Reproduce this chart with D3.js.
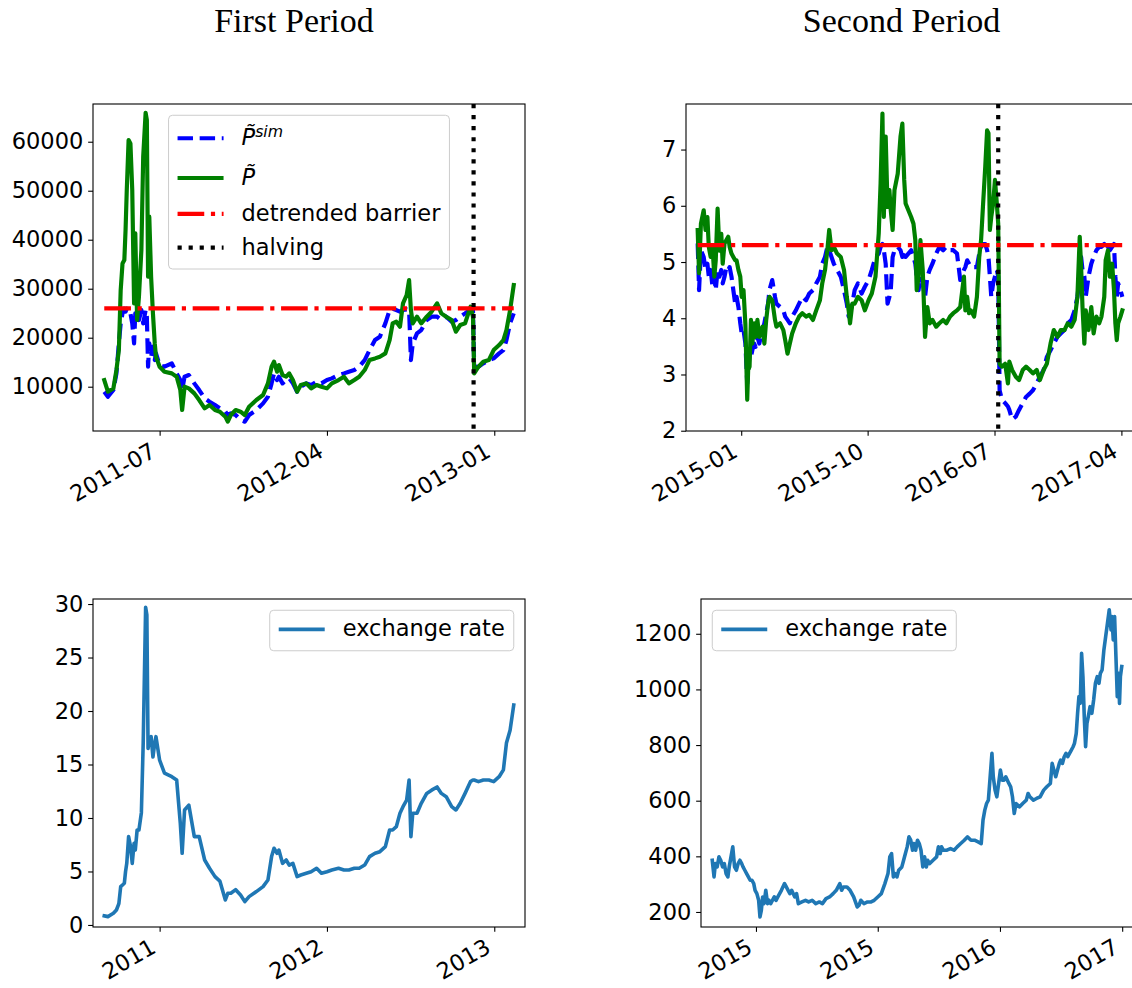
<!DOCTYPE html>
<html>
<head>
<meta charset="utf-8">
<script src="https://cdn.jsdelivr.net/npm/d3@7"></script>
<style>
  body { margin: 0; background: #fff; }
  svg { display: block; }
</style>
</head>
<body>
<svg id="fig" width="1132" height="988"></svg>
<script>
// ---- first period: detrended price, simulated price, exchange rate ----
const p1Dates = ["2011-04-01","2011-04-07","2011-04-16","2011-04-21","2011-04-25","2011-04-28","2011-05-01","2011-05-04","2011-05-06","2011-05-08",
  "2011-05-11","2011-05-14","2011-05-17","2011-05-20","2011-05-22","2011-05-25","2011-05-28","2011-06-01","2011-06-04","2011-06-08",
  "2011-06-10","2011-06-12","2011-06-14","2011-06-17","2011-06-20","2011-06-23","2011-06-25","2011-07-01","2011-07-09","2011-07-21",
  "2011-07-29","2011-08-04","2011-08-07","2011-08-11","2011-08-18","2011-08-27","2011-09-04","2011-09-13","2011-09-21","2011-09-30",
  "2011-10-08","2011-10-17","2011-10-21","2011-10-26","2011-11-03","2011-11-11","2011-11-18","2011-11-25","2011-12-07","2011-12-18",
  "2011-12-26","2012-01-01","2012-01-05","2012-01-10","2012-01-13","2012-01-19","2012-01-25","2012-01-30","2012-02-05","2012-02-12",
  "2012-02-18","2012-02-27","2012-03-06","2012-03-15","2012-03-23","2012-04-01","2012-04-09","2012-04-20","2012-04-29","2012-05-07",
  "2012-05-16","2012-05-24","2012-06-02","2012-06-10","2012-06-19","2012-06-27","2012-07-06","2012-07-13","2012-07-18","2012-07-24",
  "2012-07-30","2012-08-04","2012-08-10","2012-08-14","2012-08-17","2012-08-20","2012-08-27","2012-09-03","2012-09-12","2012-09-20",
  "2012-09-29","2012-10-06","2012-10-14","2012-10-23","2012-10-30","2012-11-06","2012-11-14","2012-11-23","2012-11-27","2012-11-29",
  "2012-12-06","2012-12-14","2012-12-23","2012-12-31","2013-01-09","2013-01-16","2013-01-21","2013-01-27","2013-02-02"];

const p1Obs = [11360,8980,9660,13400,17480,29730,35170,35850,41970,50140,
  60340,59660,50140,27010,41290,23610,28370,37890,56940,65920,
  64420,32450,44700,32450,24970,18840,16120,14080,13060,12720,
  12040,9320,5240,10000,9660,8640,7280,5580,6260,5240,
  4900,3880,2860,4220,5240,4900,4220,5920,7280,8300,
  10680,14080,15100,13060,14420,12380,12040,12720,11360,8980,
  10340,10680,9660,10340,10000,9660,10680,11360,12040,10680,
  11360,12040,13400,15440,15780,16120,16800,19520,22930,23270,
  22250,27010,28710,31770,25650,22930,24290,22930,24290,25310,
  27010,24970,24290,23610,21230,22590,22930,26330,24290,12720,
  14080,15100,15440,17480,18500,19520,21560,25650,30750];

const p1Sim = [8980,7960,9320,12720,18840,22930,24970,25920,25310,25920,
  25650,24970,22930,18840,24970,24290,23610,25650,22930,25650,
  24290,14080,18840,16120,18160,15440,16800,14420,14080,14760,
  12720,11360,9320,12040,12380,10680,9320,7620,6940,6260,
  5580,4900,4220,4560,4220,3200,2860,4220,5240,6600,
  7960,10680,12720,11360,12040,10680,11360,11700,10680,8980,
  10000,10680,10340,11020,10680,11360,11700,12380,12720,13060,
  13400,14080,15440,17480,19520,20200,22930,25650,25920,25650,
  25310,25650,25780,25650,15440,18840,20880,21560,23610,24290,
  24290,23610,24290,23270,23610,24290,24970,25780,25650,14080,
  14080,14760,15440,15780,16800,17480,19520,22930,24970];

const p1Rate = [0.85,0.78,1.09,1.4,2.0,3.58,3.74,3.9,5.0,5.76,
  8.26,7.4,5.76,7.63,7.0,8.88,8.88,10.5,17.0,29.7,
  29.0,16.5,17.3,17.6,15.7,17.0,17.6,15.4,14.2,13.86,
  13.55,9.5,6.7,10.75,11.2,8.26,8.26,6.07,5.3,4.52,
  4.1,2.34,2.96,2.96,3.3,2.8,2.18,2.65,3.12,3.58,
  4.2,6.39,7.17,6.7,7.0,5.76,6.07,5.6,5.76,4.52,
  4.67,4.83,4.98,5.3,4.83,4.98,5.14,5.3,5.14,5.14,
  5.3,5.3,5.6,6.39,6.7,6.85,7.32,8.88,8.88,9.19,
  10.44,11.06,11.68,13.55,8.26,10.44,10.44,11.37,12.3,12.6,
  12.9,12.3,11.99,11.06,10.75,11.37,12.3,13.4,13.55,13.55,
  13.4,13.55,13.55,13.4,13.86,14.5,17.0,18.2,20.56];

// ---- second period ----
const p2Dates = ["2014-09-29","2014-10-02","2014-10-06","2014-10-12","2014-10-16","2014-10-20","2014-10-23","2014-10-27","2014-10-31","2014-11-04",
  "2014-11-07","2014-11-11","2014-11-15","2014-11-19","2014-11-22","2014-11-26","2014-11-30","2014-12-04","2014-12-07","2014-12-11",
  "2014-12-15","2014-12-19","2014-12-22","2014-12-26","2014-12-30","2015-01-02","2015-01-06","2015-01-10","2015-01-14","2015-01-16",
  "2015-01-19","2015-01-22","2015-01-25","2015-01-29","2015-02-01","2015-02-05","2015-02-09","2015-02-16","2015-02-20","2015-02-24",
  "2015-02-28","2015-03-03","2015-03-09","2015-03-15","2015-03-18","2015-03-26","2015-04-02","2015-04-06","2015-04-11","2015-04-16",
  "2015-04-21","2015-04-29","2015-05-06","2015-05-13","2015-05-21","2015-05-28","2015-06-05","2015-06-12","2015-06-20","2015-06-25",
  "2015-07-01","2015-07-06","2015-07-10","2015-07-15","2015-07-20","2015-07-27","2015-08-04","2015-08-11","2015-08-17","2015-08-21",
  "2015-08-24","2015-08-29","2015-09-03","2015-09-10","2015-09-18","2015-09-25","2015-10-03","2015-10-10","2015-10-18","2015-10-25",
  "2015-10-29","2015-11-02","2015-11-05","2015-11-09","2015-11-13","2015-11-17","2015-11-20","2015-11-24","2015-11-28","2015-12-05",
  "2015-12-11","2015-12-15","2015-12-19","2015-12-22","2015-12-28","2016-01-03","2016-01-08","2016-01-12","2016-01-15","2016-01-19",
  "2016-01-23","2016-01-28","2016-02-02","2016-02-07","2016-02-12","2016-02-18","2016-02-26","2016-03-04","2016-03-12","2016-03-19",
  "2016-03-27","2016-04-03","2016-04-11","2016-04-18","2016-04-26","2016-04-29","2016-05-03","2016-05-07","2016-05-11","2016-05-18",
  "2016-05-24","2016-05-29","2016-06-02","2016-06-06","2016-06-11","2016-06-15","2016-06-18","2016-06-21","2016-06-24","2016-06-28",
  "2016-07-02","2016-07-06","2016-07-09","2016-07-12","2016-07-17","2016-07-24","2016-07-30","2016-08-02","2016-08-08","2016-08-16",
  "2016-08-23","2016-08-31","2016-09-07","2016-09-15","2016-09-22","2016-09-30","2016-10-07","2016-10-15","2016-10-22","2016-10-30",
  "2016-11-06","2016-11-14","2016-11-21","2016-11-29","2016-12-06","2016-12-14","2016-12-21","2016-12-27","2017-01-01","2017-01-04",
  "2017-01-07","2017-01-11","2017-01-14","2017-01-20","2017-01-26","2017-01-31","2017-02-06","2017-02-12","2017-02-17","2017-02-23",
  "2017-02-26","2017-03-03","2017-03-07","2017-03-12","2017-03-16","2017-03-19","2017-03-22","2017-03-25","2017-03-30","2017-04-03"];

const p2Obs = [5.57,4.8,5.68,5.92,5.57,5.8,5.27,5.09,5.27,4.74,
  5.03,5.95,5.2,5.5,4.97,5.33,5.39,5.45,5.27,5.15,
  5.09,5.03,5.03,4.86,4.74,4.38,4.5,3.9,2.55,3.08,
  3.14,3.97,3.55,3.91,3.67,3.97,3.67,3.85,3.55,3.97,
  4.26,4.38,4.32,3.97,3.85,3.91,3.79,3.61,3.37,3.55,
  3.73,3.91,4.03,4.09,4.03,4.06,3.97,4.14,4.32,4.62,
  4.86,5.21,5.57,5.21,5.27,5.15,5.09,4.86,4.38,4.14,
  3.91,4.26,4.26,4.38,4.32,4.14,4.32,4.44,4.74,5.51,
  6.4,7.64,5.8,7.23,5.98,6.28,5.92,5.57,6.28,6.57,
  7.23,7.46,6.46,6.04,5.92,5.8,5.68,5.39,4.5,4.74,
  5.39,4.86,3.67,4.2,3.91,3.97,3.85,3.91,3.97,3.91,
  4.03,4.09,4.14,4.2,4.74,4.14,4.38,4.09,4.14,4.03,
  4.38,5.09,5.39,5.98,6.69,7.34,7.29,5.57,5.8,6.04,
  6.46,6.04,5.68,3.19,3.14,3.19,2.84,3.23,3.08,2.96,
  2.9,3.08,3.14,3.08,3.02,3.08,2.9,3.08,3.19,3.55,
  3.79,3.67,3.79,3.79,3.91,3.85,3.97,4.38,5.45,4.92,
  4.2,3.55,4.14,3.79,4.2,3.73,4.03,3.91,4.03,4.38,
  5.03,5.21,4.74,4.97,4.5,3.91,3.61,3.91,4.03,4.14];

const p2Sim = [5.33,4.5,5.21,5.09,4.86,4.97,4.74,4.86,4.56,4.74,
  4.5,4.86,4.74,4.86,4.62,4.74,4.91,4.86,4.91,4.74,
  4.5,4.26,4.38,4.2,3.91,3.73,3.79,3.55,2.84,3.02,
  3.37,3.31,3.43,3.55,3.49,3.67,3.55,3.79,3.91,4.09,
  4.26,4.5,4.68,4.38,4.26,4.2,4.14,4.03,3.97,3.91,
  4.03,4.14,4.26,4.38,4.32,4.44,4.5,4.62,4.74,4.97,
  5.09,5.27,5.21,5.09,4.97,4.86,4.74,4.5,4.26,4.03,
  4.09,4.26,4.5,4.62,4.44,4.56,4.68,4.86,5.09,5.15,
  5.27,5.32,5.21,4.97,4.26,4.38,4.5,5.09,5.21,5.27,
  5.21,5.09,5.21,5.09,5.15,5.21,5.09,4.97,4.74,4.5,
  4.74,4.62,4.38,4.74,4.86,4.97,5.15,5.27,5.21,5.27,
  5.21,5.21,5.15,4.68,4.86,4.91,5.03,4.97,4.91,4.91,
  4.91,5.15,5.27,5.32,5.32,5.21,5.09,4.74,4.38,4.62,
  4.74,4.86,4.74,2.72,2.55,2.49,2.43,2.37,2.2,2.25,
  2.37,2.49,2.6,2.66,2.72,2.84,2.96,3.08,3.31,3.43,
  3.55,3.67,3.73,3.79,3.91,3.97,4.14,4.38,4.74,5.09,
  4.86,4.74,4.38,4.74,4.97,5.09,5.21,5.27,5.27,5.32,
  5.21,5.27,5.21,5.27,5.32,4.74,4.38,4.62,4.5,4.38];

const p2RateDates = ["2014-09-25","2014-09-29","2014-10-02","2014-10-06","2014-10-10","2014-10-14","2014-10-18","2014-10-22","2014-10-26","2014-10-30",
  "2014-11-02","2014-11-06","2014-11-10","2014-11-14","2014-11-18","2014-11-22","2014-11-26","2014-11-30","2014-12-03","2014-12-07",
  "2014-12-11","2014-12-15","2014-12-19","2014-12-23","2014-12-27","2014-12-30","2015-01-03","2015-01-07","2015-01-10","2015-01-13",
  "2015-01-16","2015-01-19","2015-01-23","2015-01-27","2015-01-30","2015-02-03","2015-02-11","2015-02-15","2015-02-19","2015-02-27",
  "2015-03-06","2015-03-10","2015-03-14","2015-03-18","2015-03-22","2015-03-29","2015-04-02","2015-04-06","2015-04-14","2015-04-22",
  "2015-04-29","2015-05-07","2015-05-15","2015-05-23","2015-05-30","2015-06-07","2015-06-15","2015-06-23","2015-06-30","2015-07-08",
  "2015-07-12","2015-07-16","2015-07-24","2015-07-31","2015-08-08","2015-08-16","2015-08-20","2015-08-24","2015-08-31","2015-09-08",
  "2015-09-16","2015-09-23","2015-10-01","2015-10-09","2015-10-17","2015-10-24","2015-10-28","2015-11-01","2015-11-05","2015-11-09",
  "2015-11-13","2015-11-17","2015-11-24","2015-11-28","2015-12-02","2015-12-06","2015-12-10","2015-12-14","2015-12-18","2015-12-21",
  "2015-12-25","2015-12-29","2016-01-02","2016-01-06","2016-01-10","2016-01-14","2016-01-18","2016-01-21","2016-01-25","2016-02-02",
  "2016-02-10","2016-02-14","2016-02-18","2016-02-21","2016-02-25","2016-03-04","2016-03-12","2016-03-20","2016-03-27","2016-04-04",
  "2016-04-12","2016-04-19","2016-04-27","2016-05-05","2016-05-13","2016-05-20","2016-05-24","2016-05-28","2016-06-01","2016-06-05",
  "2016-06-09","2016-06-13","2016-06-16","2016-06-20","2016-06-24","2016-06-28","2016-07-02","2016-07-06","2016-07-10","2016-07-14",
  "2016-07-21","2016-07-25","2016-07-29","2016-08-02","2016-08-06","2016-08-14","2016-08-21","2016-08-29","2016-09-02","2016-09-06",
  "2016-09-14","2016-09-21","2016-09-29","2016-10-07","2016-10-14","2016-10-22","2016-10-26","2016-10-30","2016-11-03","2016-11-07",
  "2016-11-11","2016-11-14","2016-11-18","2016-11-22","2016-11-26","2016-11-30","2016-12-04","2016-12-08","2016-12-12","2016-12-15",
  "2016-12-19","2016-12-22","2016-12-25","2016-12-28","2016-12-31","2017-01-03","2017-01-06","2017-01-09","2017-01-12","2017-01-15",
  "2017-01-19","2017-01-23","2017-01-27","2017-01-31","2017-02-04","2017-02-08","2017-02-11","2017-02-15","2017-02-19","2017-02-23",
  "2017-02-27","2017-03-03","2017-03-07","2017-03-09","2017-03-12","2017-03-15","2017-03-18","2017-03-21","2017-03-24","2017-03-26",
  "2017-03-28","2017-03-31"];

const p2Rate = [386,326,374,362,398,386,362,374,338,326,
  362,398,434,362,350,374,386,374,362,350,
  338,326,314,314,302,278,266,242,182,206,
  254,230,278,230,242,230,254,242,254,278,
  302,290,278,266,278,254,266,230,236,242,
  236,242,230,236,230,248,254,266,278,302,
  278,290,290,278,254,218,224,242,230,236,
  236,242,254,266,302,338,398,410,326,338,
  326,350,362,386,410,434,470,458,422,446,
  422,458,446,422,362,398,362,386,374,386,
  398,434,410,434,422,422,428,422,434,446,
  458,470,458,458,452,446,530,566,590,602,
  686,770,686,638,614,662,710,674,674,686,
  662,650,614,554,590,578,590,602,626,614,
  602,608,614,638,650,662,734,710,686,710,
  734,746,734,758,770,758,770,782,794,806,
  842,914,974,950,1130,1046,902,794,878,902,
  938,914,962,1022,1046,1022,1058,1070,1142,1190,
  1238,1286,1214,1262,1178,1262,1118,974,1058,950,
  1046,1082];

const barrierLevels = [26000, 5.3];
const halvingDates = ["2012-11-28", "2016-07-09"];
const periodTitles = ["First Period", "Second Period"];
const xTicks1 = ["2011-07-01", "2012-04-01", "2013-01-01"];
const xTicks2 = ["2015-01-01", "2015-10-01", "2016-07-01", "2017-04-01"];
const yTicksTL = [10000, 20000, 30000, 40000, 50000, 60000];
const yTicksTR = [2, 3, 4, 5, 6, 7];
const yTicksBL = [0, 5, 10, 15, 20, 25, 30];
const yTicksBR = [200, 400, 600, 800, 1000, 1200];

// ---- drawing ----
const svg = d3.select("#fig");
const parse = d3.timeParse("%Y-%m-%d");
const FS = 22.5, TICK = 4.86, LW = 4.17;
const DASHED = `${3.7 * LW},${1.6 * LW}`;
const DASHDOT = `${6.4 * LW},${1.6 * LW},${1 * LW},${1.6 * LW}`;
const DOTTED = `${1 * LW},${1.65 * LW}`;
const xMargin = 0.0275;

function paddedExtent(dates) {
  const [a, b] = d3.extent(dates, parse);
  const pad = (b - a) * xMargin;
  return [new Date(+a - pad), new Date(+b + pad)];
}

function simLabel(t) {
  t.append("tspan").attr("font-style", "italic").text("P\u0303");
  t.append("tspan").attr("font-style", "italic").attr("font-size", FS * 0.7).attr("dy", -8).text("sim");
}
function obsLabel(t) {
  t.append("tspan").attr("font-style", "italic").text("P\u0303");
}

function drawLegend(g, P, items) {
  const pad = 9, handle = 46, gap = 18, spacing = 11.25, axPad = 11.25;
  const lg = g.append("g");
  const box = lg.append("rect");
  let y = pad, maxW = 0;
  items.forEach(it => {
    const asc = it.math ? 21 : 17.1, desc = it.math ? 7.5 : 5.4;
    const base = y + asc;
    const t = lg.append("text")
      .attr("x", pad + handle + gap).attr("y", base)
      .attr("font-size", FS).attr("font-family", "DejaVu Sans").attr("fill", "#000");
    if (it.render) it.render(t); else t.text(it.label);
    maxW = Math.max(maxW, t.node().getComputedTextLength());
    lg.append("line")
      .attr("x1", pad).attr("x2", pad + handle)
      .attr("y1", base - 7).attr("y2", base - 7)
      .attr("stroke", it.color).attr("stroke-width", it.width)
      .attr("stroke-dasharray", it.dash || null);
    y = base + desc + spacing;
  });
  const h = y - spacing + pad, w = 2 * pad + handle + gap + maxW;
  box.attr("width", w).attr("height", h).attr("rx", 4)
    .attr("fill", "#fff").attr("fill-opacity", 0.8)
    .attr("stroke", "#cccccc").attr("stroke-width", 1);
  let lx;
  if (P.legendLoc === "upper center") lx = (P.x0 + P.x1) / 2 - w / 2;
  else if (P.legendLoc === "upper right") lx = P.x1 - axPad - w;
  else lx = P.x0 + axPad;
  lg.attr("transform", `translate(${lx},${P.y0 + axPad})`);
}

function drawPanel(P, idx) {
  const g = svg.append("g");
  const x = d3.scaleTime().domain(paddedExtent(P.extentDates)).range([P.x0, P.x1]);
  const y = d3.scaleLinear().domain(P.yLim).range([P.y1, P.y0]);

  const clipId = "clip" + idx;
  svg.append("clipPath").attr("id", clipId).append("rect")
    .attr("x", P.x0).attr("y", P.y0).attr("width", P.x1 - P.x0).attr("height", P.y1 - P.y0);
  const plot = g.append("g").attr("clip-path", `url(#${clipId})`);

  const line = d3.line().x(d => x(d[0])).y(d => y(d[1]));
  P.series.forEach(s => {
    const pts = s.dates.map((d, i) => [parse(d), s.values[i]]);
    plot.append("path").datum(pts)
      .attr("d", line)
      .attr("fill", "none")
      .attr("stroke", s.color)
      .attr("stroke-width", s.width)
      .attr("stroke-linejoin", "round")
      .attr("stroke-linecap", s.dash ? "butt" : "square")
      .attr("stroke-dasharray", s.dash || null);
  });
  if (P.halving) {
    const hx = x(parse(P.halving));
    plot.append("line")
      .attr("x1", hx).attr("x2", hx).attr("y1", P.y0).attr("y2", P.y1)
      .attr("stroke", "#000").attr("stroke-width", LW)
      .attr("stroke-dasharray", DOTTED);
  }

  // frame
  g.append("rect")
    .attr("x", P.x0).attr("y", P.y0).attr("width", P.x1 - P.x0).attr("height", P.y1 - P.y0)
    .attr("fill", "none").attr("stroke", "#000").attr("stroke-width", 1.1);

  // y axis
  const gy = g.append("g").attr("transform", `translate(${P.x0},0)`)
    .call(d3.axisLeft(y).tickValues(P.yTicks).tickFormat(d3.format("d"))
      .tickSize(TICK).tickPadding(TICK).tickSizeOuter(0));
  gy.select(".domain").remove();
  gy.attr("font-size", FS).attr("font-family", "DejaVu Sans");
  gy.selectAll(".tick line").attr("stroke-width", 1.1);

  // x axis, labels rotated 30 degrees, right aligned at the tick
  const gx = g.append("g").attr("transform", `translate(0,${P.y1})`)
    .call(d3.axisBottom(x).tickValues(P.xTicks.map(parse)).tickFormat(d3.timeFormat(P.xFmt))
      .tickSize(TICK).tickSizeOuter(0));
  gx.select(".domain").remove();
  gx.attr("font-size", FS).attr("font-family", "DejaVu Sans");
  gx.selectAll(".tick line").attr("stroke-width", 1.1);
  gx.selectAll(".tick text")
    .attr("y", null).attr("dy", null)
    .attr("text-anchor", "end")
    .attr("transform", `translate(${-0.118 * FS},${2 * TICK + 0.658 * FS}) rotate(-30)`);

  if (P.legend) drawLegend(g, P, P.legend);
}

const barrier1 = [p1Dates[0], p1Dates[p1Dates.length - 1]];
const barrier2 = [p2Dates[0], p2Dates[p2Dates.length - 1]];

const panels = [
  {
    x0: 93, x1: 525, y0: 104, y1: 431,
    extentDates: p1Dates, yLim: [960, 67700], yTicks: yTicksTL,
    xTicks: xTicks1, xFmt: "%Y-%m", halving: halvingDates[0],
    series: [
      { dates: p1Dates, values: p1Sim, color: "blue", width: LW, dash: DASHED },
      { dates: p1Dates, values: p1Obs, color: "green", width: LW },
      { dates: barrier1, values: [barrierLevels[0], barrierLevels[0]], color: "red", width: LW, dash: DASHDOT }
    ],
    legendLoc: "upper center",
    legend: [
      { math: true, render: simLabel, color: "blue", width: LW, dash: DASHED },
      { math: true, render: obsLabel, color: "green", width: LW },
      { label: "detrended barrier", color: "red", width: LW, dash: DASHDOT },
      { label: "halving", color: "#000", width: LW, dash: DOTTED }
    ]
  },
  {
    x0: 686, x1: 1134, y0: 104, y1: 431,
    extentDates: p2Dates, yLim: [1.995, 7.81], yTicks: yTicksTR,
    xTicks: xTicks2, xFmt: "%Y-%m", halving: halvingDates[1],
    series: [
      { dates: p2Dates, values: p2Sim, color: "blue", width: LW, dash: DASHED },
      { dates: p2Dates, values: p2Obs, color: "green", width: LW },
      { dates: barrier2, values: [barrierLevels[1], barrierLevels[1]], color: "red", width: LW, dash: DASHDOT }
    ]
  },
  {
    x0: 93, x1: 525, y0: 599, y1: 927,
    extentDates: p1Dates, yLim: [-0.19, 30.47], yTicks: yTicksBL,
    xTicks: xTicks1, xFmt: "%Y",
    series: [{ dates: p1Dates, values: p1Rate, color: "#1f77b4", width: 3.6 }],
    legendLoc: "upper right",
    legend: [{ label: "exchange rate", color: "#1f77b4", width: 3.6 }]
  },
  {
    x0: 701, x1: 1133, y0: 599, y1: 927,
    extentDates: p2RateDates, yLim: [146, 1325], yTicks: yTicksBR,
    xTicks: xTicks2, xFmt: "%Y",
    series: [{ dates: p2RateDates, values: p2Rate, color: "#1f77b4", width: 3.6 }],
    legendLoc: "upper left",
    legend: [{ label: "exchange rate", color: "#1f77b4", width: 3.6 }]
  }
];

panels.forEach(drawPanel);

// column titles
svg.selectAll("text.period-title")
  .data(periodTitles)
  .enter()
  .append("text")
  .attr("class", "period-title")
  .attr("x", (d, i) => i === 0 ? 294 : 901.5)
  .attr("y", 32)
  .attr("text-anchor", "middle")
  .attr("font-family", "Liberation Serif")
  .attr("font-size", 34)
  .attr("fill", "#000")
  .text(d => d);
</script>
</body>
</html>
